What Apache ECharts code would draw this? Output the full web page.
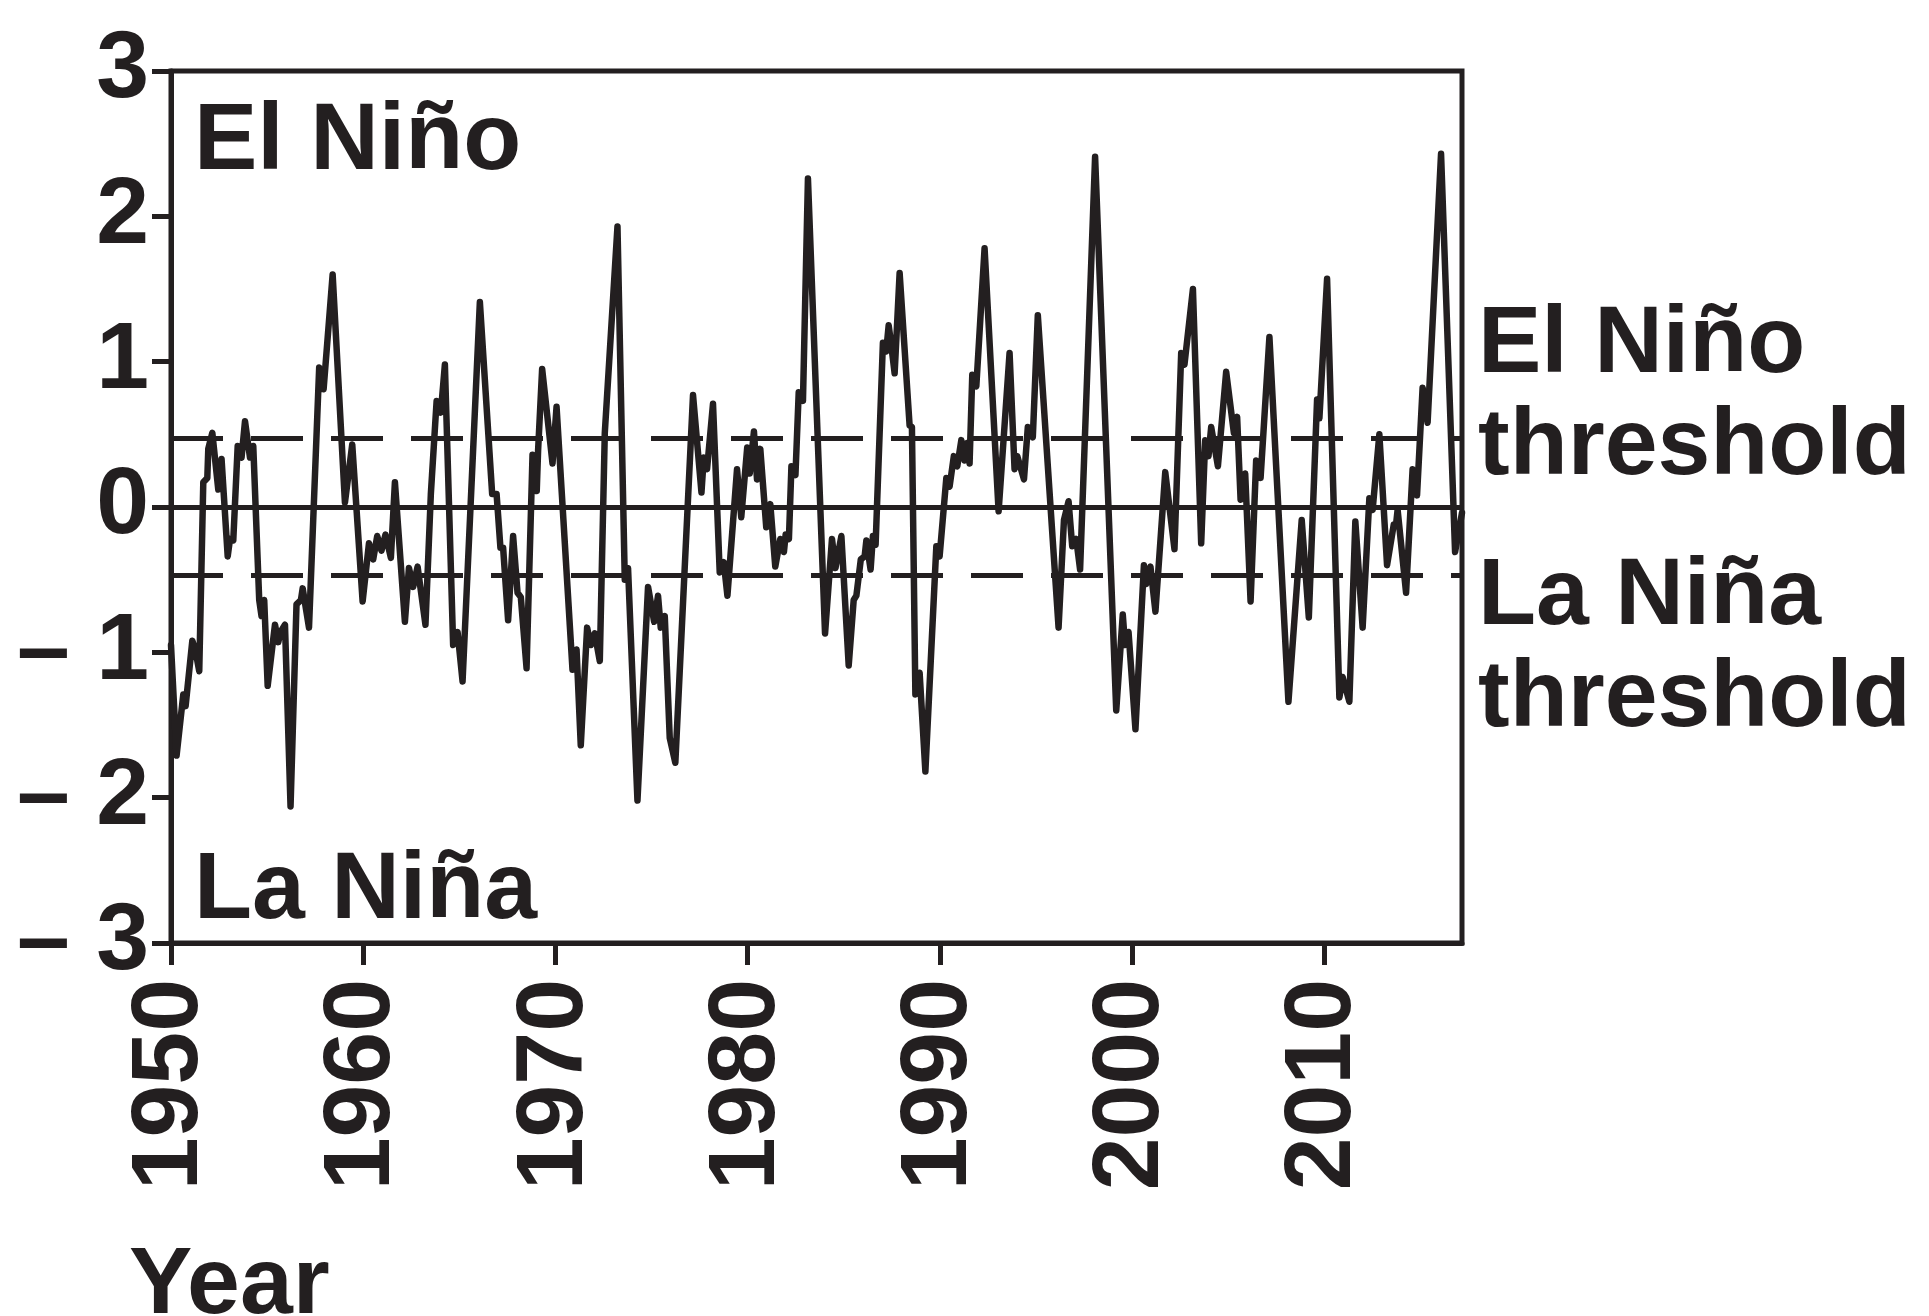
<!DOCTYPE html>
<html><head><meta charset="utf-8">
<script src="https://cdn.jsdelivr.net/npm/echarts@6/dist/echarts.min.js"></script>
<style>html,body{margin:0;padding:0;background:#fff}#c{width:1929px;height:1316px}</style>
</head><body><div id="c"></div>
<script>
// Year positions (decimal years) of each vertex of the index line
const years = [
1950.00,1950.29,1950.64,1950.76,1951.11,1951.26,1951.47,1951.68,1951.89,1951.94,
1952.15,1952.46,1952.63,1952.95,1953.07,1953.24,1953.47,1953.67,1953.85,1954.11,
1954.28,1954.59,1954.71,1954.85,1955.03,1955.41,1955.58,1955.70,1955.93,1956.22,
1956.53,1956.76,1956.85,1957.18,1957.71,1957.94,1958.41,1959.05,1959.43,1959.97,
1960.30,1960.52,1960.73,1960.95,1961.16,1961.44,1961.65,1962.17,1962.38,1962.60,
1962.83,1963.24,1963.52,1963.82,1964.04,1964.25,1964.68,1964.91,1965.17,1966.07,
1966.71,1966.94,1967.14,1967.28,1967.54,1967.80,1968.03,1968.20,1968.50,1968.81,
1969.03,1969.10,1969.31,1969.85,1970.06,1970.89,1971.10,1971.32,1971.65,1971.84,
1972.05,1972.31,1972.57,1973.23,1973.61,1973.78,1974.27,1974.82,1975.14,1975.34,
1975.48,1975.69,1975.95,1976.24,1977.16,1977.60,1977.72,1977.89,1978.20,1978.55,
1978.76,1978.95,1979.45,1979.67,1979.98,1980.11,1980.33,1980.49,1980.66,1980.97,
1981.18,1981.44,1981.70,1981.89,1981.98,1982.15,1982.28,1982.49,1982.66,1982.88,
1983.14,1984.03,1984.39,1984.57,1984.70,1984.88,1985.26,1985.52,1985.66,1985.89,
1986.09,1986.18,1986.40,1986.52,1986.66,1987.04,1987.21,1987.34,1987.47,1987.65,
1987.91,1988.43,1988.55,1988.73,1988.95,1989.25,1989.82,1989.99,1990.34,1990.51,
1990.73,1990.91,1991.12,1991.29,1991.43,1991.55,1991.69,1991.90,1992.33,1993.06,
1993.63,1993.89,1994.03,1994.38,1994.58,1994.84,1995.10,1996.18,1996.46,1996.70,
1996.89,1997.10,1997.30,1998.08,1999.18,1999.52,1999.64,1999.82,2000.18,2000.62,
2000.74,2000.96,2001.22,2001.73,2002.21,2002.56,2002.73,2003.17,2003.60,2003.81,
2003.98,2004.12,2004.47,2004.90,2005.30,2005.47,2005.65,2005.89,2006.17,2006.46,
2006.69,2007.15,2008.14,2008.83,2009.20,2009.63,2009.75,2010.15,2010.79,2010.96,
2011.31,2011.62,2012.00,2012.35,2012.52,2012.87,2013.27,2013.62,2013.74,2013.82,
2014.26,2014.60,2014.83,2015.12,2015.38,2016.08,2016.81,2017.17
];
// Index values
const oni = [
-0.95,-1.71,-1.29,-1.37,-0.92,-0.98,-1.13,0.17,0.20,0.40,
0.51,0.12,0.33,-0.34,-0.22,-0.23,0.42,0.34,0.59,0.34,
0.42,-0.64,-0.75,-0.64,-1.23,-0.81,-0.93,-0.86,-0.81,-2.06,
-0.67,-0.64,-0.56,-0.83,0.96,0.81,1.60,0.03,0.43,-0.65,
-0.25,-0.36,-0.20,-0.30,-0.19,-0.35,0.17,-0.79,-0.42,-0.55,
-0.41,-0.81,0.09,0.73,0.65,0.98,-0.95,-0.86,-1.20,1.41,
0.09,0.09,-0.28,-0.28,-0.78,-0.20,-0.59,-0.62,-1.11,0.36,
0.11,0.39,0.95,0.30,0.69,-1.12,-0.98,-1.64,-0.83,-0.95,
-0.87,-1.06,0.51,1.93,-0.50,-0.42,-2.02,-0.55,-0.79,-0.61,
-0.83,-0.75,-1.59,-1.76,0.77,0.10,0.34,0.26,0.71,-0.45,
-0.38,-0.61,0.26,-0.07,0.41,0.23,0.52,0.19,0.40,-0.14,
0.02,-0.41,-0.22,-0.31,-0.19,-0.22,0.28,0.22,0.79,0.73,
2.26,-0.87,-0.22,-0.42,-0.33,-0.20,-1.09,-0.64,-0.61,-0.36,
-0.34,-0.23,-0.43,-0.20,-0.26,1.13,1.07,1.25,1.12,0.92,
1.61,0.56,0.55,-1.29,-1.14,-1.82,-0.27,-0.34,0.20,0.14,
0.35,0.28,0.46,0.32,0.44,0.30,0.91,0.83,1.78,-0.03,
1.06,0.26,0.35,0.19,0.55,0.48,1.32,-0.83,-0.09,0.04,
-0.27,-0.22,-0.43,2.41,-1.40,-0.74,-0.95,-0.86,-1.53,-0.40,
-0.53,-0.41,-0.72,0.24,-0.29,1.06,0.98,1.50,-0.25,0.46,
0.35,0.55,0.28,0.93,0.51,0.62,0.05,0.23,-0.65,0.32,
0.20,1.17,-1.34,-0.09,-0.76,0.74,0.61,1.57,-1.31,-1.17,
-1.34,-0.10,-0.83,0.06,-0.02,0.50,-0.40,-0.12,-0.12,-0.02,
-0.59,0.26,0.08,0.82,0.58,2.43,-0.31,-0.04
];
const xTicks = [1950,1960,1970,1980,1990,2000,2010];
const yTicks = [-3,-2,-1,0,1,2,3];
const elNinoThreshold = 0.47;
const laNinaThreshold = -0.47;
const zeroLine = 0;

const INK = '#231f20';
const FONT = '"Liberation Sans", Arial, Helvetica, sans-serif';
const FS = 95;

const chart = echarts.init(document.getElementById('c'), null, {renderer: 'canvas'});

function txt(text, x, y) {
  return {type: 'text', x: x, y: y, silent: true,
    style: {text: text, fill: INK, font: 'bold ' + FS + 'px ' + FONT, align: 'left', verticalAlign: 'middle'}};
}

const option = {
  animation: false,
  backgroundColor: '#ffffff',
  grid: {left: 171, right: 467, top: 71, bottom: 373, show: true, borderColor: INK, borderWidth: 5, containLabel: false},
  xAxis: {
    type: 'value', min: 1950, max: 2017.17, interval: 10,
    axisLine: {show: true, onZero: false, lineStyle: {color: INK, width: 5}},
    axisTick: {show: true, inside: false, length: 22, customValues: xTicks, lineStyle: {color: INK, width: 5}},
    axisLabel: {show: true, rotate: 90, margin: 36, customValues: xTicks, color: INK,
      fontSize: FS, fontWeight: 'bold', fontFamily: FONT, formatter: v => String(v)},
    splitLine: {show: false}
  },
  yAxis: {
    type: 'value', min: -3, max: 3, interval: 1,
    axisLine: {show: true, onZero: false, lineStyle: {color: INK, width: 5}},
    axisTick: {show: true, inside: false, length: 19, customValues: yTicks, lineStyle: {color: INK, width: 5}},
    axisLabel: {show: true, margin: 22, customValues: yTicks, color: INK,
      fontSize: FS, fontWeight: 'bold', fontFamily: FONT, padding: [0, 0, 28, 0],
      formatter: v => v < 0 ? '\u2013 ' + Math.abs(v) : String(v)},
    splitLine: {show: false}
  },
  series: [{
    type: 'line',
    data: years.map((y, i) => [y, oni[i]]),
    showSymbol: false,
    symbol: 'none',
    z: 5,
    lineStyle: {color: INK, width: 6.5, cap: 'round', join: 'round'},
    markLine: {
      silent: true, symbol: ['none', 'none'], label: {show: false}, z: 2,
      data: [
        {yAxis: elNinoThreshold, lineStyle: {color: INK, width: 5, type: [52, 28], dashOffset: 0}},
        {yAxis: zeroLine, lineStyle: {color: INK, width: 5, type: 'solid'}},
        {yAxis: laNinaThreshold, lineStyle: {color: INK, width: 5, type: [52, 28], dashOffset: 0}}
      ]
    }
  }],
  graphic: [
    txt('El Niño', 194, 143),
    txt('La Niña', 194, 892),
    txt('El Niño', 1478, 346),
    txt('threshold', 1478, 448),
    txt('La Niña', 1478, 598),
    txt('threshold', 1478, 700),
    txt('Year', 129, 1287)
  ]
};
chart.setOption(option);
</script></body></html>
